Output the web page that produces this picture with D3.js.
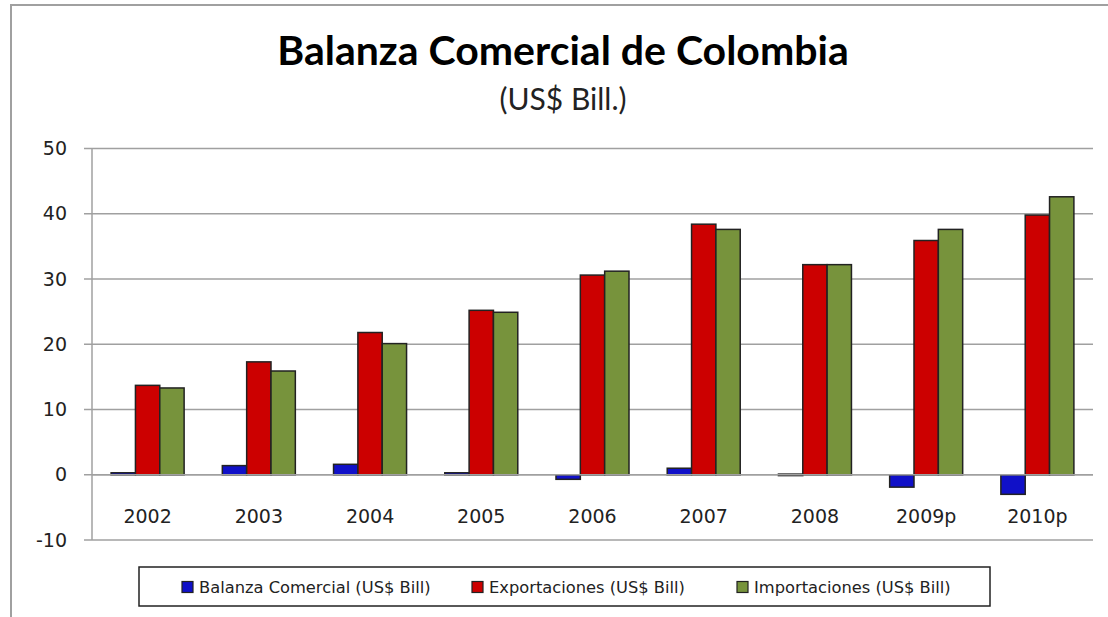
<!DOCTYPE html>
<html>
<head>
<meta charset="utf-8">
<script src="https://cdn.jsdelivr.net/npm/d3@7"></script>
<style>
    body { margin: 0; background: #fff; }
    svg { display: block; }
</style>
</head>
<body>
<div id="chart"></div>
<script>
const years = ["2002", "2003", "2004", "2005", "2006", "2007", "2008", "2009p", "2010p"];
const balanza = [0.3, 1.4, 1.6, 0.3, -0.7, 1.0, 0.1, -1.9, -3.0];
const exportaciones = [13.7, 17.3, 21.8, 25.2, 30.6, 38.4, 32.2, 35.9, 39.8];
const importaciones = [13.3, 15.9, 20.1, 24.9, 31.2, 37.6, 32.2, 37.6, 42.6];
const seriesNames = ["Balanza Comercial (US$ Bill)", "Exportaciones (US$ Bill)", "Importaciones (US$ Bill)"];
const seriesColors = ["#1010c8", "#cc0000", "#77933c"];
const yTicks = [-10, 0, 10, 20, 30, 40, 50];

function drawChart() {
    const W = 1108, H = 617;
    const plot = { left: 92, right: 1093, top: 148.5, bottom: 540 };

    const svg = d3.select("#chart")
        .append("svg")
        .attr("width", W)
        .attr("height", H);

    // outer chart border
    svg.append("rect")
        .attr("x", 11)
        .attr("y", 5)
        .attr("width", W + 20)
        .attr("height", H + 20)
        .attr("fill", "#fff")
        .attr("stroke", "#a0a0a0")
        .attr("stroke-width", 2);

    svg.append("text")
        .attr("x", 563)
        .attr("y", 65)
        .attr("text-anchor", "middle")
        .style("font-family", "Lato, 'Open Sans', sans-serif")
        .style("font-weight", "bold")
        .style("font-size", "41px")
        .text("Balanza Comercial de Colombia");

    svg.append("text")
        .attr("x", 563)
        .attr("y", 110)
        .attr("text-anchor", "middle")
        .style("font-family", "Lato, 'Open Sans', sans-serif")
        .style("font-size", "30px")
        .style("fill", "#222")
        .text("(US$ Bill.)");

    const x = d3.scaleBand()
        .domain(years)
        .range([plot.left, plot.right]);

    const x1 = d3.scaleBand()
        .domain([0, 1, 2])
        .range([0, x.bandwidth()])
        .paddingOuter(0.785);

    const y = d3.scaleLinear()
        .domain([-10, 50])
        .range([plot.bottom, plot.top]);

    // gridlines + y axis
    svg.append("g")
        .selectAll("line")
        .data(yTicks)
        .join("line")
        .attr("x1", plot.left - 8)
        .attr("x2", plot.right)
        .attr("y1", d => y(d))
        .attr("y2", d => y(d))
        .attr("stroke", "#a0a0a0")
        .attr("stroke-width", 1.5);

    svg.append("line")
        .attr("x1", plot.left)
        .attr("x2", plot.left)
        .attr("y1", plot.top)
        .attr("y2", plot.bottom)
        .attr("stroke", "#a0a0a0")
        .attr("stroke-width", 1.5);

    svg.append("g")
        .selectAll("text")
        .data(yTicks)
        .join("text")
        .attr("x", plot.left - 25)
        .attr("y", d => y(d))
        .attr("dy", "0.35em")
        .attr("text-anchor", "end")
        .style("font-family", "'DejaVu Sans', sans-serif")
        .style("font-size", "19px")
        .style("fill", "#222")
        .text(d => d);

    const values = [balanza, exportaciones, importaciones];
    const bars = [];
    years.forEach((yr, i) => {
        values.forEach((arr, s) => bars.push({ year: yr, s: s, v: arr[i] }));
    });

    svg.append("g")
        .selectAll("rect")
        .data(bars)
        .join("rect")
        .attr("x", d => x(d.year) + x1(d.s))
        .attr("width", x1.bandwidth())
        .attr("y", d => Math.min(y(d.v), y(0)))
        .attr("height", d => Math.max(1.5, Math.abs(y(d.v) - y(0))))
        .attr("fill", d => seriesColors[d.s])
        .attr("stroke", "#222")
        .attr("stroke-width", 1.5);

    // zero line on top
    svg.append("line")
        .attr("x1", plot.left)
        .attr("x2", plot.right)
        .attr("y1", y(0))
        .attr("y2", y(0))
        .attr("stroke", "#a0a0a0")
        .attr("stroke-width", 1.5);

    svg.append("g")
        .selectAll("text")
        .data(years)
        .join("text")
        .attr("x", d => x(d) + x.bandwidth() / 2)
        .attr("y", y(0) + 42)
        .attr("dy", "0.35em")
        .attr("text-anchor", "middle")
        .style("font-family", "'DejaVu Sans', sans-serif")
        .style("font-size", "19px")
        .style("fill", "#222")
        .text(d => d);

    // legend
    const legend = svg.append("g");
    legend.append("rect")
        .attr("x", 139)
        .attr("y", 567)
        .attr("width", 851)
        .attr("height", 39)
        .attr("fill", "#fff")
        .attr("stroke", "#222")
        .attr("stroke-width", 1.5);

    const legendX = [182, 472, 737];
    const items = legend.selectAll("g.item")
        .data(seriesNames)
        .join("g")
        .attr("class", "item")
        .attr("transform", (d, i) => `translate(${legendX[i]}, 587)`);

    items.append("rect")
        .attr("x", 0)
        .attr("y", -5.5)
        .attr("width", 11)
        .attr("height", 11)
        .attr("fill", (d, i) => seriesColors[i])
        .attr("stroke", "#222")
        .attr("stroke-width", 1.2);

    items.append("text")
        .attr("x", 17)
        .attr("dy", "0.35em")
        .style("font-family", "'DejaVu Sans', sans-serif")
        .style("font-size", "16.3px")
        .style("fill", "#222")
        .text(d => d);
}

document.addEventListener("DOMContentLoaded", function () {
    drawChart();
});
</script>
</body>
</html>
